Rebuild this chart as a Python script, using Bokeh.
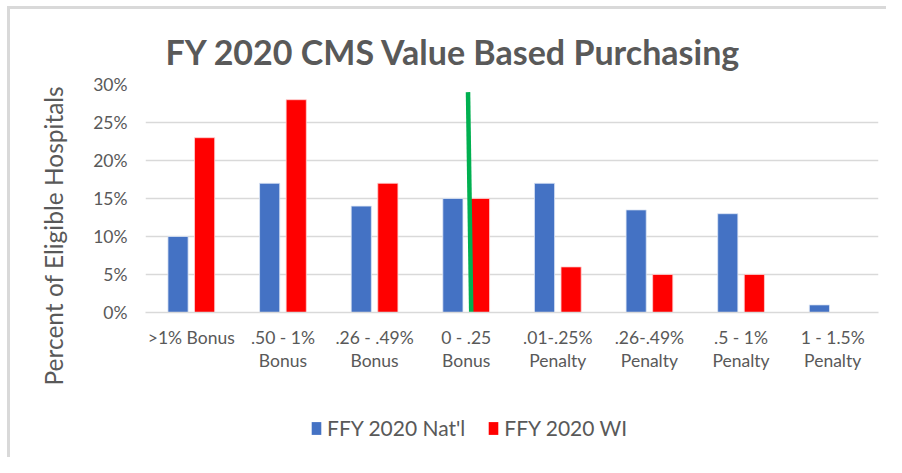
from bokeh.plotting import figure
from bokeh.layouts import column
from bokeh.models import (ColumnDataSource, FactorRange, Legend, LegendItem, NumeralTickFormatter,
                          FixedTicker, Range1d, Title)
from bokeh.transform import dodge
from bokeh.embed import file_html
from bokeh.resources import INLINE

categories = [">1% Bonus", ".50 - 1%\nBonus", ".26 - .49%\nBonus", "0 - .25\nBonus",
              ".01-.25%\nPenalty", ".26-.49%\nPenalty", ".5 - 1%\nPenalty", "1 - 1.5%\nPenalty"]
natl = [0.10, 0.17, 0.14, 0.15, 0.17, 0.135, 0.13, 0.01]
wi = [0.23, 0.28, 0.17, 0.15, 0.06, 0.05, 0.05, 0.0]
series_names = ["FFY 2020 Nat'l", "FFY 2020 WI"]
series_colors = ["#4472C4", "#FF0000"]
y_ticks = [0, 0.05, 0.10, 0.15, 0.20, 0.25, 0.30]

# green divider annotation
divider_cat = ["0 - .25\nBonus"]
divider_top = [0.29]
divider_bottom = [0.0]

FONT = "Lato"
TXT = "#595959"

src = ColumnDataSource(dict(cat=categories, natl=natl, wi=wi))

p = figure(x_range=FactorRange(*categories), y_range=Range1d(0, 0.30),
           width=886, height=390, output_backend="svg", toolbar_location=None,
           min_border_left=145, min_border_right=8, min_border_top=84, min_border_bottom=78)

p.title.text = "FY 2020 CMS Value Based Purchasing"
p.title.text_font = FONT
p.title.text_font_size = "34px"
p.title.text_font_style = "bold"
p.title.text_color = TXT
p.title.align = "left"
p.title.offset = 20
p.title.standoff = 25

p.ygrid.grid_line_color = "#D9D9D9"
p.ygrid.grid_line_width = 1.5
p.xgrid.grid_line_color = None
p.outline_line_color = None

r1 = p.vbar(x=dodge("cat", -0.145, range=p.x_range), top="natl", width=0.22, source=src,
            fill_color=series_colors[0], line_color="#DDE6F5", line_width=0.8)
r2 = p.vbar(x=dodge("cat", 0.145, range=p.x_range), top="wi", width=0.22, source=src,
            fill_color=series_colors[1], line_color="#FFD0D0", line_width=0.8)

dsrc = ColumnDataSource(dict(cat=divider_cat, top=divider_top, bottom=divider_bottom))
p.segment(x0=dodge("cat", 0.02, range=p.x_range), y0="top",
          x1=dodge("cat", 0.055, range=p.x_range), y1="bottom",
          source=dsrc, line_color="#00B050", line_width=4.5)

p.yaxis.ticker = FixedTicker(ticks=y_ticks)
p.yaxis.formatter = NumeralTickFormatter(format="0%")
p.yaxis.axis_line_color = None
p.yaxis.major_tick_line_color = None
p.yaxis.minor_tick_line_color = None
p.yaxis.major_label_text_font = FONT
p.yaxis.major_label_text_font_size = "17.5px"
p.yaxis.major_label_text_color = TXT
p.yaxis.major_label_standoff = 12

ytitle = Title(text="Percent of Eligible Hospitals", align="left", offset=-73, standoff=46,
               text_font=FONT, text_font_size="24.5px", text_font_style="normal", text_color=TXT)
p.add_layout(ytitle, "left")

p.xaxis.axis_line_color = "#D9D9D9"
p.xaxis.axis_line_width = 1.5
p.xaxis.major_tick_line_color = None
p.xaxis.minor_tick_line_color = None
p.xaxis.major_label_text_font = FONT
p.xaxis.major_label_text_font_size = "17.5px"
p.xaxis.major_label_text_color = TXT
p.xaxis.major_label_text_line_height = 1.1
p.xaxis.major_label_standoff = 8
p.xaxis.major_label_orientation = "horizontal"
p.border_fill_color = None

# legend strip below the chart (its frame is aligned with the chart's frame)
q = figure(width=886, height=67, x_range=FactorRange(*categories), y_range=Range1d(0, 1),
           output_backend="svg", toolbar_location=None,
           min_border_left=0, min_border_right=0, min_border_top=0, min_border_bottom=0)
q.axis.visible = False
q.grid.grid_line_color = None
q.outline_line_color = None
q.border_fill_color = None
q.background_fill_color = None
l1 = q.vbar(x="cat", top="natl", width=0.22, source=src, fill_color=series_colors[0],
            line_color=None, visible=False)
l2 = q.vbar(x="cat", top="wi", width=0.22, source=src, fill_color=series_colors[1],
            line_color=None, visible=False)
legend = Legend(items=[LegendItem(label=series_names[0], renderers=[l1]),
                       LegendItem(label=series_names[1], renderers=[l2])],
                orientation="horizontal", location=(165, 17),
                label_text_font=FONT, label_text_font_size="21px", label_text_color=TXT,
                glyph_width=12, glyph_height=16, spacing=22, label_standoff=5,
                inactive_fill_alpha=0,
                border_line_color=None, background_fill_alpha=0, margin=0, padding=0)
q.add_layout(legend, "center")

layout = column(p, q, spacing=0)
layout.styles = {
    "background-color": "white",
    "background-image": "linear-gradient(#D9D9D9, #D9D9D9), linear-gradient(#D9D9D9, #D9D9D9)",
    "background-position": "7px 6px, 7px 6px",
    "background-size": "3px 100%, 100% 3px",
    "background-repeat": "no-repeat",
}

open("out.html", "w").write(file_html(layout, INLINE))
